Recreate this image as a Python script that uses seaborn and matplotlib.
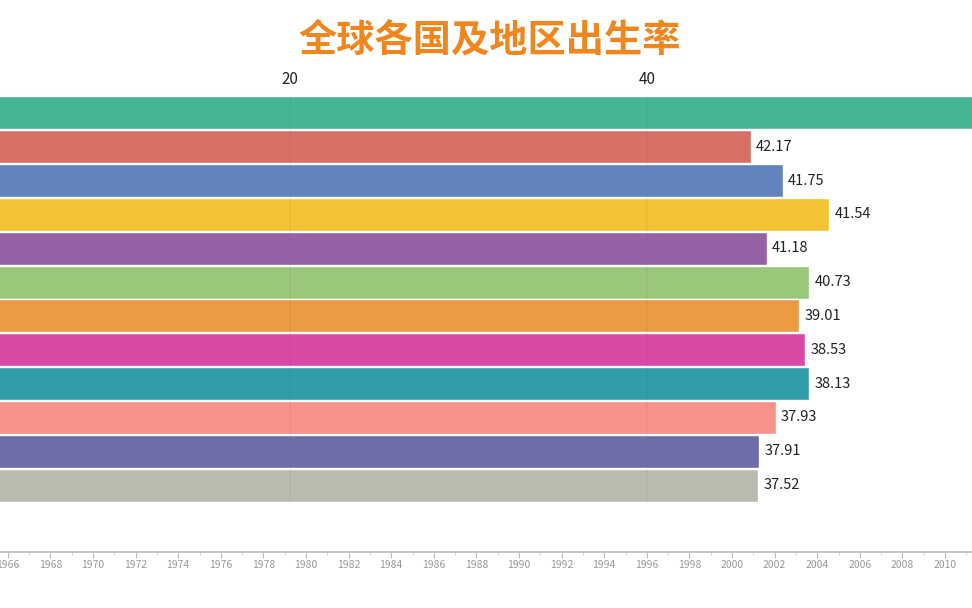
import matplotlib
matplotlib.use("Agg")
import matplotlib.pyplot as plt
import seaborn as sns
import pandas as pd
import numpy as np
from matplotlib.ticker import MultipleLocator

# ---- data (frame of an animated bar-chart race) ----
categories = ["c01", "c02", "c03", "c04", "c05", "c06",
              "c07", "c08", "c09", "c10", "c11", "c12"]
bar_values = [59.5, 45.8, 47.6, 50.2, 46.7, 49.1, 48.5, 48.85, 49.1, 47.2, 46.3, 46.2]
label_texts = ["", "42.17", "41.75", "41.54", "41.18", "40.73",
               "39.01", "38.53", "38.13", "37.93", "37.91", "37.52"]
colors = ["#45B593", "#D97066", "#6184BE", "#F3C335", "#9660A7", "#9BC77A",
          "#EB9B42", "#D84AA6", "#319CAA", "#F9918B", "#6F6DA8", "#B8BCAF"]
top_ticks = [20, 40]
years = list(range(1966, 2011, 2))
title = "全球各国及地区出生率"

sns.set_theme(style="white")
plt.rcParams["font.family"] = ["Noto Sans CJK SC", "DejaVu Sans"]

W, H = 972, 608
fig = plt.figure(figsize=(W / 100, H / 100), dpi=100)

df = pd.DataFrame({"cat": categories, "val": bar_values})

ax = fig.add_axes([0, (H - 502) / H, 1, (502 - 96) / H])
sns.barplot(data=df, x="val", y="cat", hue="cat", palette=colors, orient="h",
            width=0.975, dodge=False, legend=False, ax=ax, saturation=1)
x0 = 67 / 17.85
ax.set_xlim(x0, x0 + W / 17.85)
ax.set_ylim(len(categories) - 0.5, -0.5)
for s in ax.spines.values():
    s.set_visible(False)
ax.set_yticks([])
ax.set_ylabel("")
ax.set_xlabel("")
ax.xaxis.tick_top()
ax.set_xticks(top_ticks)
ax.set_xticklabels([str(t) for t in top_ticks])
ax.tick_params(axis="x", length=0, pad=6, labelsize=11, labelcolor="#222222")
for t in top_ticks:
    ax.axvline(t, color="#555577", alpha=0.07, lw=1.2, zorder=5)

for i, (v, lab) in enumerate(zip(bar_values, label_texts)):
    if lab:
        ax.annotate(lab, xy=(v, i), xytext=(4, 0), textcoords="offset points",
                    va="center", ha="left", fontsize=10.5, color="#222222")

# ---- timeline axis ----
tax = fig.add_axes([0, (H - 552) / H, 1, 0.001])
tax.set_xlim(1966 - 7.8 / 21.3, 1966 - 7.8 / 21.3 + W / 21.3)
tax.set_yticks([])
for k in ["top", "left", "right"]:
    tax.spines[k].set_visible(False)
tax.spines["bottom"].set_color("#BBBBBB")
tax.spines["bottom"].set_linewidth(1.2)
tax.set_xticks(years)
tax.set_xticklabels([str(y) for y in years])
tax.xaxis.set_minor_locator(MultipleLocator(1))
tax.tick_params(axis="x", which="major", bottom=True, length=4, width=0.8,
                color="#BBBBBB", labelsize=7.5, labelcolor="#999999", pad=2)
tax.tick_params(axis="x", which="minor", bottom=True, length=2, width=0.6,
                color="#CCCCCC")
tax.patch.set_alpha(0)

fig.text(490 / W, 1 - 40 / H, title, ha="center", va="center",
         fontsize=27.5, fontweight="bold", color="#F0871E")

fig.savefig("out.png", dpi=100)
